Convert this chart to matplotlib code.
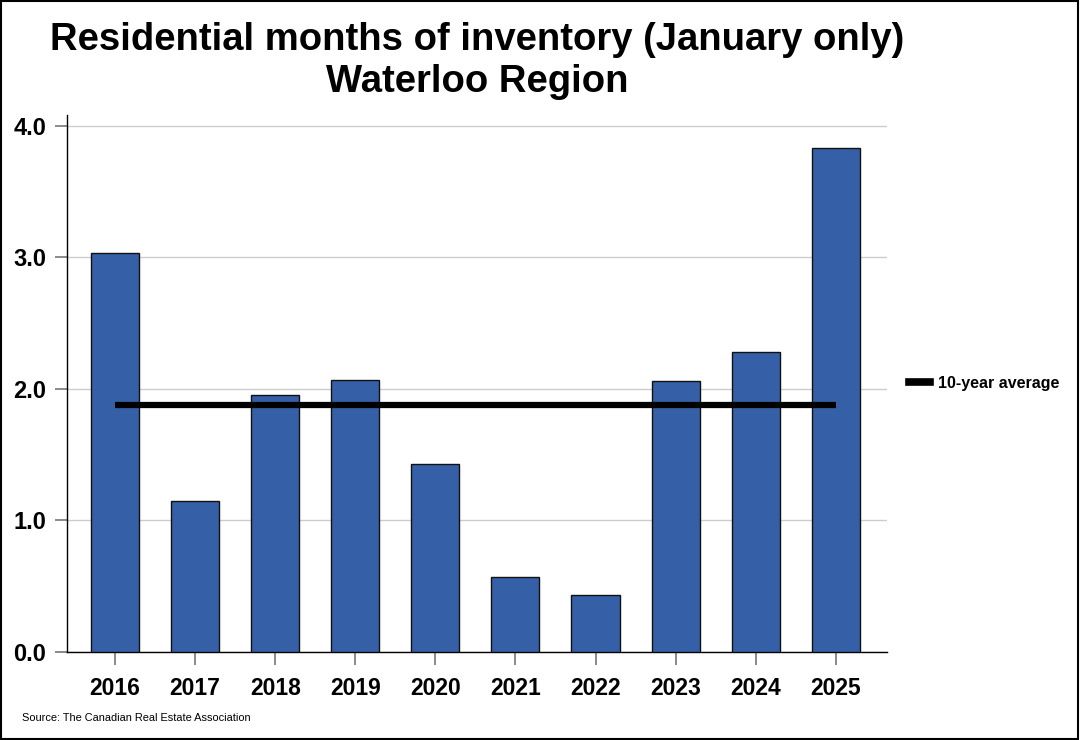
import matplotlib
matplotlib.use("Agg")
import matplotlib.pyplot as plt
from matplotlib.lines import Line2D

plt.rcParams['font.family'] = ['Liberation Sans', 'DejaVu Sans']

years = ["2016", "2017", "2018", "2019", "2020", "2021", "2022", "2023", "2024", "2025"]
months_inventory = [3.03, 1.15, 1.95, 2.07, 1.43, 0.57, 0.43, 2.06, 2.28, 3.83]
ten_year_average = 1.88
y_ticks = [0.0, 1.0, 2.0, 3.0, 4.0]

fig = plt.figure(figsize=(10.8, 7.4), dpi=100)
ax = fig.add_axes([67/1080, 1-652/740, (887-67)/1080, (652-115)/740])

x = list(range(len(years)))
ax.bar(x, months_inventory, width=0.6, color='#3560A8', edgecolor='#111111', linewidth=1.0, zorder=3)
ax.plot([x[0], x[-1]], [ten_year_average]*2, color='black', linewidth=4.5, zorder=4, solid_capstyle='butt')

ax.set_xlim(-0.6, 9.64)
ax.set_ylim(0, 4.08)
ax.set_yticks(y_ticks)
ax.set_yticklabels([f"{v:.1f}" for v in y_ticks], fontsize=17, fontweight='bold')
ax.set_xticks(x)
ax.set_xticklabels(years, fontsize=16.5, fontweight='bold')
ax.yaxis.grid(True, color='#cccccc', linewidth=1.0, zorder=0)
ax.set_axisbelow(True)
for s in ['top', 'right']:
    ax.spines[s].set_visible(False)
ax.spines['left'].set_linewidth(1.0)
ax.spines['bottom'].set_linewidth(1.0)
ax.tick_params(axis='both', direction='out', length=9, width=1.2, color='#777777')
ax.tick_params(axis='x', pad=9)
ax.tick_params(axis='y', pad=6)

fig.text(477/1080, 1-40/740, "Residential months of inventory (January only)", ha='center', va='center',
         fontsize=27.5, fontweight='bold')
fig.text(477/1080, 1-82/740, "Waterloo Region", ha='center', va='center', fontsize=27.5, fontweight='bold')

handle = Line2D([0], [0], color='black', linewidth=5.5)
fig.legend([handle], ["10-year average"], loc='center left', bbox_to_anchor=(895/1080, 1-383/740),
           frameon=False, prop={'size': 11.5, 'weight': 'bold'}, handlelength=1.3, handletextpad=0.5)

fig.text(22/1080, 1-718/740, "Source: The Canadian Real Estate Association", fontsize=7.9, va='center')

fig.patches.append(plt.Rectangle((0.0005, 0.0007), 0.998, 0.998, transform=fig.transFigure,
                                 fill=False, edgecolor='black', linewidth=1.5))

fig.savefig("out.png", dpi=100)
